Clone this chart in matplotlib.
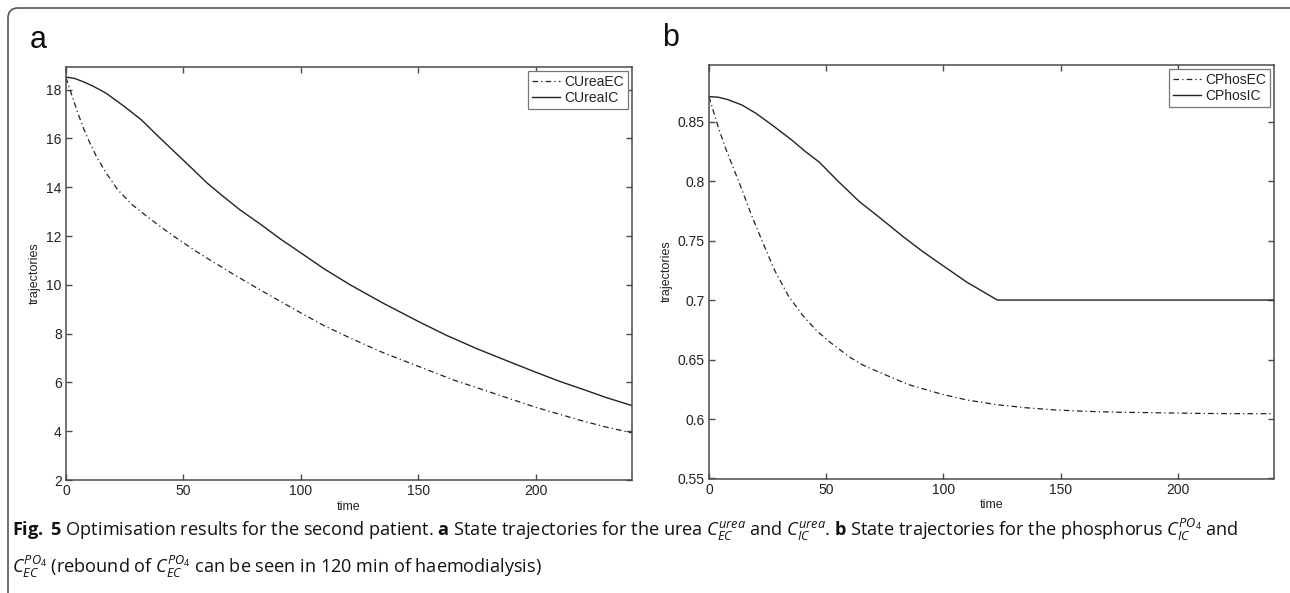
import matplotlib
matplotlib.use("Agg")
import matplotlib.pyplot as plt
from matplotlib.patches import FancyBboxPatch
from matplotlib.transforms import IdentityTransform

# ---------------- data ----------------
t_urea_ic = [0, 4, 8, 12, 17, 25, 32, 40, 46, 53, 60, 67, 74, 83, 91, 100, 110, 121,
             135, 150, 162, 175, 190, 200, 210, 220, 230, 241]
urea_ic = [18.52, 18.45, 18.30, 18.12, 17.86, 17.30, 16.77, 16.02, 15.47, 14.83, 14.18,
           13.62, 13.08, 12.47, 11.90, 11.31, 10.65, 10.00, 9.25, 8.50, 7.93, 7.38, 6.80,
           6.42, 6.05, 5.72, 5.38, 5.05]
t_urea_ec = [0, 1, 2.4, 5, 7.4, 10, 13, 17, 22, 28, 34.5, 41, 47, 55, 63, 71.5, 78.6, 88,
             100, 110, 121, 135, 150, 165, 180, 190, 200, 210, 220, 230, 241]
urea_ec = [18.50, 18.20, 17.80, 17.05, 16.43, 15.85, 15.25, 14.60, 13.90, 13.30, 12.80,
           12.33, 11.92, 11.40, 10.92, 10.42, 10.02, 9.50, 8.85, 8.32, 7.82, 7.22, 6.66,
           6.10, 5.62, 5.30, 4.98, 4.70, 4.42, 4.17, 3.93]

t_phos_ec = [0, 2, 4, 7, 11, 14, 18, 23, 28, 34, 40, 46, 52, 60, 66, 73, 85, 99, 110, 123,
             135, 147, 160, 175, 193, 210, 225, 241]
phos_ec = [0.871, 0.858, 0.845, 0.828, 0.808, 0.793, 0.772, 0.748, 0.725, 0.703, 0.687,
           0.674, 0.664, 0.652, 0.645, 0.639, 0.629, 0.621, 0.616, 0.612, 0.6095, 0.6077,
           0.6065, 0.6057, 0.6052, 0.6047, 0.6045, 0.6045]
t_phos_ic = [0, 4, 8, 14, 20, 27, 35, 41, 47, 55, 64, 73, 83, 91, 99, 110, 123, 241]
phos_ic = [0.871, 0.8705, 0.8685, 0.864, 0.857, 0.847, 0.835, 0.825, 0.816, 0.800, 0.783,
           0.769, 0.753, 0.741, 0.730, 0.715, 0.700, 0.700]

x_ticks = [0, 50, 100, 150, 200]
urea_yticks = [2, 4, 6, 8, 10, 12, 14, 16, 18]
phos_yticks = [0.55, 0.6, 0.65, 0.7, 0.75, 0.8, 0.85]
phos_yticklabels = ["0.55", "0.6", "0.65", "0.7", "0.75", "0.8", "0.85"]

# ---------------- style ----------------
plt.rcParams['font.family'] = ['Liberation Sans', 'DejaVu Sans']
plt.rcParams['mathtext.fontset'] = 'custom'
plt.rcParams['mathtext.rm'] = 'Open Sans'
plt.rcParams['mathtext.it'] = 'Open Sans:italic'
plt.rcParams['mathtext.bf'] = 'Open Sans:bold'

W, H = 1290, 593
fig = plt.figure(figsize=(W / 100, H / 100), dpi=100)

spine_col = '#4a4a4a'
line_col = '#222222'
text_col = '#222222'
dashdot = (0, (4.5, 2.5, 1.0, 2.5))


def px_axes(x0, x1, ytop, ybot):
    return fig.add_axes([x0 / W, (H - ybot) / H, (x1 - x0) / W, (ybot - ytop) / H])


def style(ax):
    for s in ax.spines.values():
        s.set_color(spine_col)
        s.set_linewidth(1.1)
    ax.tick_params(direction='in', length=4.5, width=1.0, color=spine_col,
                   top=True, right=True, labelsize=10, labelcolor=text_col, pad=3)
    ax.set_xlabel('time', fontsize=9, color=text_col, labelpad=2)
    ax.set_ylabel('trajectories', fontsize=9, color=text_col, labelpad=4)


# panel a
ax1 = px_axes(66, 632, 66.5, 480)
ax1.plot(t_urea_ec, urea_ec, color=line_col, lw=0.9, linestyle=dashdot, label='CUreaEC')
ax1.plot(t_urea_ic, urea_ic, color=line_col, lw=1.0, label='CUreaIC')
ax1.set_xlim(0, 241)
ax1.set_ylim(2, 18.95)
ax1.set_xticks(x_ticks)
ax1.set_yticks(urea_yticks)
style(ax1)

# panel b
ax2 = px_axes(709, 1274, 64.5, 478.5)
ax2.plot(t_phos_ec, phos_ec, color=line_col, lw=0.9, linestyle=dashdot, label='CPhosEC')
ax2.plot(t_phos_ic, phos_ic, color=line_col, lw=1.0, label='CPhosIC')
ax2.set_xlim(0, 241)
ax2.set_ylim(0.55, 0.898)
ax2.set_xticks(x_ticks)
ax2.set_yticks(phos_yticks)
ax2.set_yticklabels(phos_yticklabels)
style(ax2)

for ax in (ax1, ax2):
    leg = ax.legend(loc='upper right', fontsize=10, frameon=True, fancybox=False,
                    edgecolor='#777777', framealpha=1, borderaxespad=0.3,
                    handlelength=2.0, handletextpad=0.3, labelspacing=0.15,
                    borderpad=0.3)
    leg.get_frame().set_linewidth(0.9)
    for txt in leg.get_texts():
        txt.set_color(text_col)

# panel letters
fig.text(30 / W, 1 - 40 / H, 'a', fontsize=22, color='#111111', va='center', ha='left')
fig.text(662 / W, 1 - 38 / H, 'b', fontsize=22, color='#111111', va='center', ha='left')

# frame
frame = FancyBboxPatch((8, -60), 1400, H - 8 + 60, boxstyle='round,pad=0,rounding_size=10',
                       transform=IdentityTransform(), fill=False, edgecolor='#555555',
                       linewidth=1.2)
fig.add_artist(frame)

# caption
cap1 = (r"$\mathbf{Fig.}$ $\mathbf{5}$ Optimisation results for the second patient. $\mathbf{a}$ State "
        r"trajectories for the urea $C_{EC}^{urea}$ and $C_{IC}^{urea}$. $\mathbf{b}$ State "
        r"trajectories for the phosphorus $C_{IC}^{PO_4}$ and")
cap2 = (r"$C_{EC}^{PO_4}$ (rebound of $C_{EC}^{PO_4}$ can be seen in 120 min of haemodialysis)")
fig.text(12 / W, 1 - 536 / H, cap1, fontsize=13.1, family='Open Sans', color='#111111',
         va='baseline', ha='left')
fig.text(12 / W, 1 - 573 / H, cap2, fontsize=13.1, family='Open Sans', color='#111111',
         va='baseline', ha='left')

fig.savefig('out.png', dpi=100)
